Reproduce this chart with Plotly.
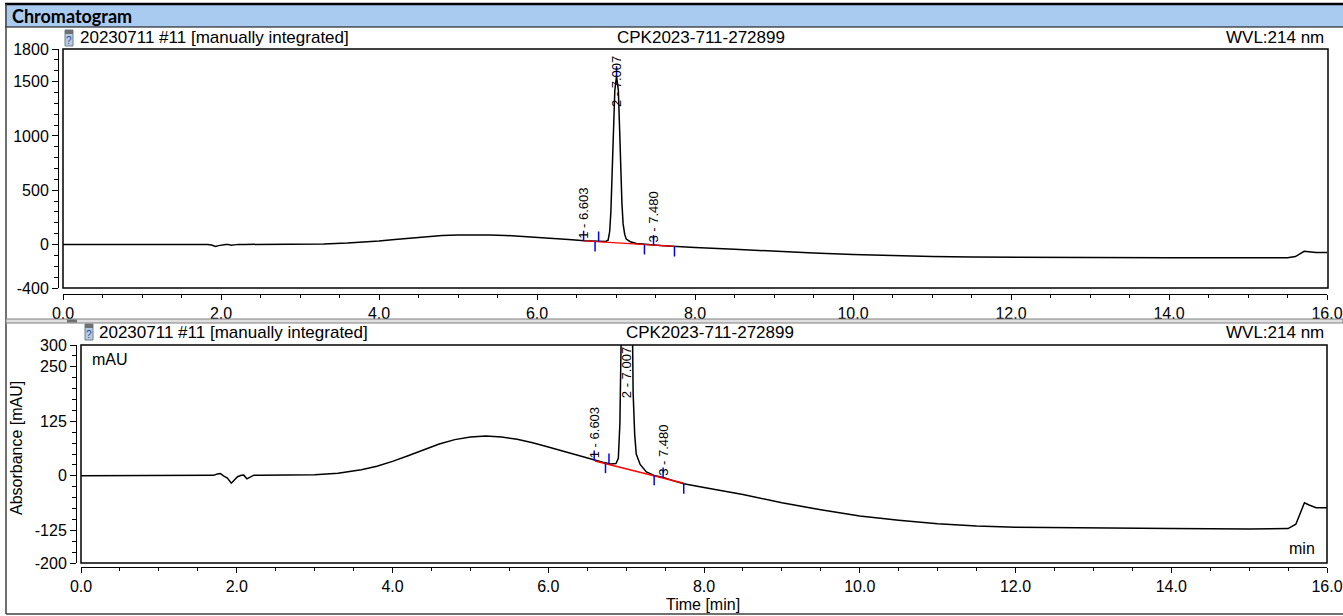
import plotly.graph_objects as go

# ---------------- data ----------------
time_min = [0.00, 0.50, 1.00, 1.50, 1.70, 1.75, 1.79, 1.83, 1.88, 1.93, 1.97, 2.01, 2.06,
            2.09, 2.13, 2.17, 2.22, 2.30, 2.60, 3.00, 3.30, 3.60, 3.80, 4.00, 4.20, 4.40,
            4.60, 4.80, 5.00, 5.20, 5.40, 5.60, 5.80, 6.00, 6.20, 6.40, 6.60, 6.70, 6.80,
            6.87, 6.90, 6.92, 6.935, 6.95, 6.965, 6.985, 7.007, 7.03, 7.045, 7.06, 7.075,
            7.09, 7.11, 7.13, 7.18, 7.26, 7.36, 7.48, 7.60, 7.74, 8.00, 8.50, 9.00, 9.50,
            10.00, 10.50, 11.00, 11.50, 12.00, 13.00, 14.00, 15.00, 15.50, 15.60, 15.67,
            15.71, 15.77, 15.86, 16.00]
absorbance_mau = [0, 0, 0.5, 1, 1, 4, 5, 0, -5, -17, -10, -2, 1,
                  1.5, -7, -3, 1.5, 1, 1, 2.5, 6, 14, 22, 33, 46, 60,
                  73, 83, 89, 91, 89, 84, 76, 66, 56, 46, 35, 31, 27,
                  28, 40, 120, 300, 650, 1050, 1420, 1550, 1420, 1080, 700, 380,
                  190, 95, 50, 26, 9, 1, -4, -11, -18, -27, -43, -62, -78,
                  -92, -102, -110, -115, -118, -120, -121, -122, -121, -111, -80,
                  -62, -67, -73, -73]

baseline_time = [6.60, 7.74]
baseline_mau = [34, -17]

peak_times = [6.59, 7.007, 7.47]
peak_heights = [35, 1550, -4]
peak_labels = ["1 - 6.603", "2 - 7.007", "3 - 7.480"]

mark_times = [6.59, 6.735, 6.78, 7.007, 7.36, 7.475, 7.74]
mark_values = [35, 29, 28, 1550, 1, -4, -18]
mark_up = [True, False, True, True, False, True, False]

x_tickvals = [0, 2, 4, 6, 8, 10, 12, 14, 16]
x_ticktext = ["0.0", "2.0", "4.0", "6.0", "8.0", "10.0", "12.0", "14.0", "16.0"]
y1_tickvals = [-400, 0, 500, 1000, 1500, 1800]
y2_tickvals = [-200, -125, 0, 125, 250, 300]

header_text = "Chromatogram"
sample_text = "20230711 #11 [manually integrated]"
id_text = "CPK2023-711-272899"
wvl_text = "WVL:214 nm"

# ---------------- layout helpers ----------------
W, H = 1343, 616
FONT = "Liberation Sans, Arial, sans-serif"


def px(x):
    return x / W


def py(y):
    return 1 - y / H


panels = [
    dict(xa="x", ya="y", left=63, right=1327, frame_right=1328, top=49, bottom=288,
         xline=294, yline=58, yrange=[-400, 1800], yticks=y1_tickvals, yminor=100,
         title_y=38, icon_x=65, title_x=78, label_top_pad=6),
    dict(xa="x2", ya="y2", left=81, right=1327, frame_right=1327, top=345, bottom=563,
         xline=567, yline=76, yrange=[-200, 300], yticks=y2_tickvals, yminor=25,
         title_y=332, icon_x=85, title_x=97, label_top_pad=1),
]

fig = go.Figure()
shapes = []
annotations = []
layout_axes = {}

for i, p in enumerate(panels):
    fig.add_trace(go.Scatter(x=time_min, y=absorbance_mau, mode="lines",
                             line=dict(color="black", width=1.5),
                             xaxis=p["xa"], yaxis=p["ya"], hoverinfo="skip", showlegend=False))
    fig.add_trace(go.Scatter(x=baseline_time, y=baseline_mau, mode="lines",
                             line=dict(color="#ff0000", width=1.4),
                             xaxis=p["xa"], yaxis=p["ya"], hoverinfo="skip", showlegend=False))

    sfx = "" if i == 0 else "2"
    layout_axes["xaxis" + sfx] = dict(
        domain=[px(p["left"]), px(p["right"])], range=[0, 16], anchor="free",
        position=py(p["xline"]), showline=True, linecolor="black", linewidth=1,
        ticks="outside", ticklen=5, tickwidth=1, tickcolor="black",
        tickmode="array", tickvals=x_tickvals, ticktext=x_ticktext,
        minor=dict(tickmode="linear", tick0=0, dtick=0.5, ticklen=3, ticks="outside",
                   tickcolor="black", tickwidth=1, showgrid=False),
        showgrid=False, zeroline=False, automargin=False,
        tickfont=dict(family=FONT, size=16, color="black"),
    )
    layout_axes["yaxis" + sfx] = dict(
        domain=[py(p["bottom"]), py(p["top"])], range=p["yrange"], anchor="free",
        position=px(p["yline"]), showline=True, linecolor="black", linewidth=1,
        ticks="outside", ticklen=6, tickwidth=1, tickcolor="black",
        tickmode="array", tickvals=p["yticks"], ticktext=[str(v) for v in p["yticks"]],
        minor=dict(tickmode="linear", tick0=0, dtick=p["yminor"], ticklen=4, ticks="outside",
                   tickcolor="black", tickwidth=1, showgrid=False),
        showgrid=False, zeroline=False, automargin=False,
        tickfont=dict(family=FONT, size=16, color="black"),
    )

    # plot frame
    shapes.append(dict(type="rect", xref="paper", yref="paper",
                       x0=px(p["left"]), x1=px(p["frame_right"]), y0=py(p["bottom"]), y1=py(p["top"]),
                       line=dict(color="black", width=1.5), layer="above"))

    # integration baseline marks
    for t, v, up in zip(mark_times, mark_values, mark_up):
        shapes.append(dict(type="line", xref=p["xa"], yref=p["ya"], ysizemode="pixel",
                           x0=t, x1=t, yanchor=v, y0=0, y1=10 if up else -10,
                           line=dict(color="#0000ff", width=1.5)))

    # peak labels
    ymin, ymax = p["yrange"]
    ppu = (p["bottom"] - p["top"]) / (ymax - ymin)
    label_len = 60
    for t, v, lab in zip(peak_times, peak_heights, peak_labels):
        dist_top = (ymax - v) * ppu
        if dist_top < label_len + 8:
            annotations.append(dict(x=t, y=1, xref=p["xa"], yref=p["ya"] + " domain",
                                    text=lab, textangle=-90, showarrow=False,
                                    xanchor="center", yanchor="top", yshift=-p["label_top_pad"],
                                    font=dict(family=FONT, size=13, color="black"), borderpad=0))
        else:
            annotations.append(dict(x=t, y=v, xref=p["xa"], yref=p["ya"],
                                    text=lab, textangle=-90, showarrow=False,
                                    xanchor="center", yanchor="bottom", yshift=1,
                                    font=dict(family=FONT, size=13, color="black"), borderpad=0))

    # title row
    ty = py(p["title_y"])
    annotations.append(dict(x=px(p["title_x"]), y=ty, xref="paper", yref="paper", text=sample_text,
                            showarrow=False, xanchor="left", yanchor="middle",
                            font=dict(family=FONT, size=17, color="black")))
    annotations.append(dict(x=px((p["left"] + p["frame_right"]) / 2 + 6), y=ty, xref="paper", yref="paper",
                            text=id_text, showarrow=False, xanchor="center", yanchor="middle",
                            font=dict(family=FONT, size=17, color="black")))
    annotations.append(dict(x=px(1326), y=ty, xref="paper", yref="paper", text=wvl_text,
                            showarrow=False, xanchor="right", yanchor="middle",
                            font=dict(family=FONT, size=17, color="black")))
    # small icon
    ix = p["icon_x"]
    shapes.append(dict(type="rect", xref="paper", yref="paper", x0=px(ix), x1=px(ix + 8),
                       y0=py(p["title_y"] + 8), y1=py(p["title_y"] - 8),
                       fillcolor="#b7cbe0", line=dict(color="#6f7f8f", width=1)))
    shapes.append(dict(type="rect", xref="paper", yref="paper", x0=px(ix), x1=px(ix + 8),
                       y0=py(p["title_y"] - 4), y1=py(p["title_y"] - 8),
                       fillcolor="#707070", line=dict(width=0)))
    annotations.append(dict(x=px(ix + 4), y=py(p["title_y"] + 2), xref="paper", yref="paper", text="?",
                            showarrow=False, xanchor="center", yanchor="middle",
                            font=dict(family=FONT, size=10, color="#2050a0")))

# header bar
shapes.append(dict(type="rect", xref="paper", yref="paper", x0=px(5), x1=px(1343), y0=py(27), y1=py(4),
                   fillcolor="#a9cbef", line=dict(width=0), layer="below"))
shapes.append(dict(type="line", xref="paper", yref="paper", x0=px(5), x1=px(1343), y0=py(4), y1=py(4),
                   line=dict(color="black", width=2.5)))
shapes.append(dict(type="line", xref="paper", yref="paper", x0=px(5), x1=px(1343), y0=py(27), y1=py(27),
                   line=dict(color="black", width=1)))
annotations.append(dict(x=px(10), y=py(16), xref="paper", yref="paper", text="<b>" + header_text + "</b>",
                        showarrow=False, xanchor="left", yanchor="middle",
                        font=dict(family="Lato, Liberation Sans, sans-serif", size=18, color="black")))

# outer border
shapes.append(dict(type="line", xref="paper", yref="paper", x0=px(6), x1=px(6), y0=py(4), y1=py(614),
                   line=dict(color="#404040", width=1.5)))
shapes.append(dict(type="line", xref="paper", yref="paper", x0=px(6), x1=px(1343), y0=py(614), y1=py(614),
                   line=dict(color="#404040", width=1.5)))

# splitter between panels
shapes.append(dict(type="rect", xref="paper", yref="paper", x0=px(6), x1=px(1343), y0=py(323), y1=py(319),
                   fillcolor="#e0e0e0", line=dict(color="#808080", width=1)))
shapes.append(dict(type="rect", xref="paper", yref="paper", x0=px(67), x1=px(77), y0=py(322.5), y1=py(319.5),
                   fillcolor="#707070", line=dict(width=0)))

# axis titles and unit labels
annotations.append(dict(x=px(90), y=py(359), xref="paper", yref="paper", text="mAU", showarrow=False,
                        xanchor="left", yanchor="middle", font=dict(family=FONT, size=16, color="black")))
annotations.append(dict(x=px(1317), y=py(548), xref="paper", yref="paper", text="min", showarrow=False,
                        xanchor="right", yanchor="middle", font=dict(family=FONT, size=16, color="black")))
annotations.append(dict(x=px(16), y=py(448), xref="paper", yref="paper", text="Absorbance [mAU]",
                        textangle=-90, showarrow=False, xanchor="center", yanchor="middle",
                        font=dict(family=FONT, size=16, color="black")))
annotations.append(dict(x=px(703), y=py(604), xref="paper", yref="paper", text="Time [min]",
                        showarrow=False, xanchor="center", yanchor="middle",
                        font=dict(family=FONT, size=16, color="black")))

fig.update_layout(
    width=W, height=H, margin=dict(l=0, r=0, t=0, b=0, pad=0, autoexpand=False),
    paper_bgcolor="white", plot_bgcolor="white",
    shapes=shapes, annotations=annotations, showlegend=False,
    **layout_axes,
)

fig.write_html(
    "out.html",
    config={"displayModeBar": False},
    post_script="document.body.style.margin='0';document.body.style.padding='0';"
                "document.body.style.overflow='hidden';",
)
